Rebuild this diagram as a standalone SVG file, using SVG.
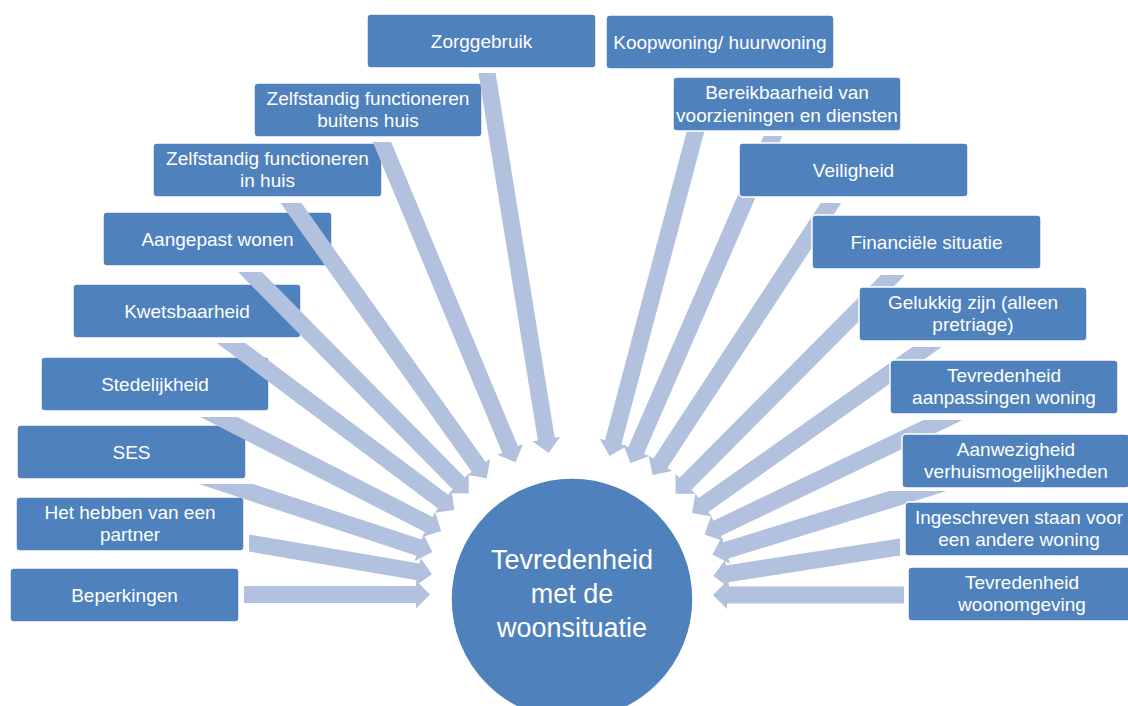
<svg xmlns="http://www.w3.org/2000/svg" width="1128" height="706" viewBox="0 0 1128 706">
<style>
.box{fill:#4F81BD;stroke:#FFFFFF;stroke-width:1.5}
.lbl{font-family:"Liberation Sans",Arial,sans-serif;font-size:19px;fill:#FFFFFF;text-anchor:middle}
.big{font-family:"Liberation Sans",Arial,sans-serif;font-size:27px;fill:#FFFFFF;text-anchor:middle}
.arr{fill:#B2C1DD}
</style>
<rect width="1128" height="706" fill="#FFFFFF"/>
<g id="left-nodes">
<g id="n-zorggebruik"><rect class="box" x="367" y="14" width="229" height="54" rx="4"/><text class="lbl" x="481.5" y="47.5">Zorggebruik</text></g>
<g id="n-zelfstandig-buiten"><rect class="box" x="254" y="83" width="228" height="54" rx="4"/><text class="lbl" x="368" y="104.5">Zelfstandig functioneren</text><text class="lbl" x="368" y="127">buitens huis</text></g>
<g id="n-zelfstandig-in"><rect class="box" x="153" y="143" width="229" height="54" rx="4"/><text class="lbl" x="267.5" y="164.5">Zelfstandig functioneren</text><text class="lbl" x="267.5" y="187">in huis</text></g>
<g id="n-aangepast"><rect class="box" x="103" y="212" width="229" height="54" rx="4"/><text class="lbl" x="217.5" y="245.5">Aangepast wonen</text></g>
<g id="n-kwetsbaarheid"><rect class="box" x="73" y="284" width="228" height="54" rx="4"/><text class="lbl" x="187" y="317.5">Kwetsbaarheid</text></g>
<g id="n-stedelijkheid"><rect class="box" x="41" y="357" width="228" height="54" rx="4"/><text class="lbl" x="155" y="390.5">Stedelijkheid</text></g>
<g id="n-ses"><rect class="box" x="17" y="425" width="229" height="54" rx="4"/><text class="lbl" x="131.5" y="458.5">SES</text></g>
<g id="n-partner"><rect class="box" x="16" y="497" width="228" height="54" rx="4"/><text class="lbl" x="130" y="518.5">Het hebben van een</text><text class="lbl" x="130" y="541">partner</text></g>
<g id="n-beperkingen"><rect class="box" x="10" y="568" width="229" height="54" rx="4"/><text class="lbl" x="124.5" y="601.5">Beperkingen</text></g>
</g>
<g id="connectors">
<polygon class="arr" points="495.6,73 554.7,437.7 560.1,436.8 548.5,452.9 532.5,441.3 537.9,440.4 478.4,73"/>
<polygon class="arr" points="391.2,142 517.9,446.1 523.0,444.0 515.5,462.3 497.2,454.8 502.2,452.7 372.8,142"/>
<polygon class="arr" points="301.4,203 485.6,461.9 490.1,458.7 486.8,478.2 467.3,474.9 471.7,471.7 280.6,203"/>
<polygon class="arr" points="262.0,272 464.9,477.5 468.8,473.6 468.7,493.4 448.9,493.3 452.8,489.4 238.1,272"/>
<polygon class="arr" points="245.2,343 448.2,494.8 451.5,490.4 454.3,510.0 434.7,512.8 438.0,508.4 216.8,343"/>
<polygon class="arr" points="237.6,417 432.6,517.0 435.1,512.1 441.2,530.9 422.3,537.0 424.9,532.1 200.4,417"/>
<polygon class="arr" points="253.2,484 421.7,539.6 423.5,534.3 432.4,552.0 414.7,560.9 416.4,555.7 198.8,484"/>
<polygon class="arr" points="249,534.4 419.7,563.4 420.6,558.0 432.0,574.2 415.9,585.6 416.8,580.2 249,551.6"/>
<polygon class="arr" points="244,586 416,586 416,580.5 430,594.5 416,608.5 416,603 244,603"/>
<polygon class="arr" points="716.6,85 621.4,444.6 626.7,446.0 609.6,455.9 599.7,438.8 605.0,440.2 699.0,85"/>
<polygon class="arr" points="782.3,136 644.0,453.8 649.1,456.0 630.6,463.2 623.4,444.8 628.4,447.0 763.7,136"/>
<polygon class="arr" points="841.2,203 667.4,468.0 672.0,471.0 652.6,475.1 648.6,455.7 653.2,458.7 820.8,203"/>
<polygon class="arr" points="905.0,275 691.5,489.8 695.4,493.7 675.6,493.7 675.6,473.9 679.5,477.8 881.0,275"/>
<polygon class="arr" points="941.7,347 708.4,512.0 711.5,516.5 692.0,513.1 695.4,493.6 698.6,498.1 912.3,347"/>
<polygon class="arr" points="962.7,420 720.8,536.0 723.2,541.0 704.5,534.4 711.1,515.7 713.5,520.7 923.4,420"/>
<polygon class="arr" points="946.8,491 728.3,558.6 730.0,563.8 712.4,554.6 721.7,537.1 723.3,542.3 889.2,491"/>
<polygon class="arr" points="900,555.6 728.4,582.3 729.3,587.7 713.3,576.0 725.0,560.1 725.8,565.5 900,538.4"/>
<polygon class="arr" points="904,586.5 727,586.5 727,581 713,595 727,609 727,603.5 904,603.5"/>
</g>
<g id="right-nodes">
<g id="n-koopwoning"><rect class="box" x="606" y="15" width="228" height="54" rx="4"/><text class="lbl" x="720" y="48.5">Koopwoning/ huurwoning</text></g>
<g id="n-bereikbaarheid"><rect class="box" x="673" y="77" width="228" height="54" rx="4"/><text class="lbl" x="787" y="99">Bereikbaarheid van</text><text class="lbl" x="787" y="121.5">voorzieningen en diensten</text></g>
<g id="n-veiligheid"><rect class="box" x="739" y="143" width="229" height="54" rx="4"/><text class="lbl" x="853.5" y="176.5">Veiligheid</text></g>
<g id="n-financieel"><rect class="box" x="812" y="215" width="229" height="54" rx="4"/><text class="lbl" x="926.5" y="248.5">Financiële situatie</text></g>
<g id="n-gelukkig"><rect class="box" x="859" y="287" width="228" height="54" rx="4"/><text class="lbl" x="973" y="308.5">Gelukkig zijn (alleen</text><text class="lbl" x="973" y="331">pretriage)</text></g>
<g id="n-tevredenheid-aanpassingen"><rect class="box" x="890" y="360" width="228" height="54" rx="4"/><text class="lbl" x="1004" y="381.5">Tevredenheid</text><text class="lbl" x="1004" y="404">aanpassingen woning</text></g>
<g id="n-aanwezigheid"><rect class="box" x="902" y="434" width="228" height="54" rx="4"/><text class="lbl" x="1016" y="455.5">Aanwezigheid</text><text class="lbl" x="1016" y="478">verhuismogelijkheden</text></g>
<g id="n-ingeschreven"><rect class="box" x="905" y="502" width="228" height="54" rx="4"/><text class="lbl" x="1019" y="523.5">Ingeschreven staan voor</text><text class="lbl" x="1019" y="546">een andere woning</text></g>
<g id="n-woonomgeving"><rect class="box" x="908" y="567" width="228" height="54" rx="4"/><text class="lbl" x="1022" y="588.5">Tevredenheid</text><text class="lbl" x="1022" y="611">woonomgeving</text></g>
</g>
<g id="n-center">
<circle cx="572" cy="599" r="121" fill="#4F81BD" stroke="#FFFFFF" stroke-width="1.5"/>
<text class="big" x="572" y="569">Tevredenheid</text>
<text class="big" x="572" y="603">met de</text>
<text class="big" x="572" y="637">woonsituatie</text>
</g>
</svg>
